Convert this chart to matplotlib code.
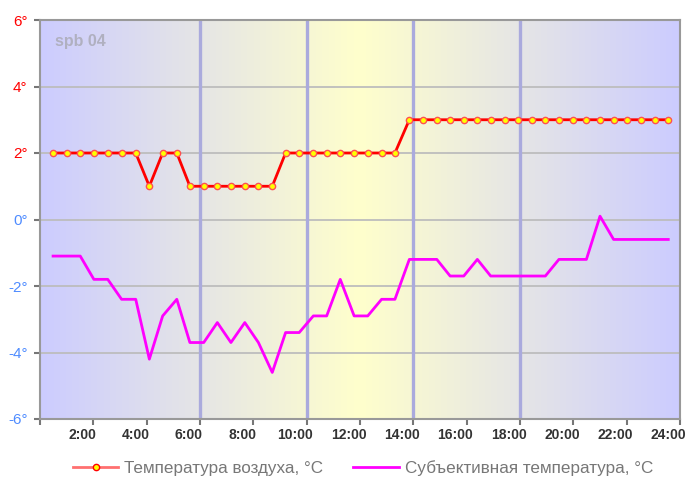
import numpy as np
import matplotlib
matplotlib.use("Agg")
import matplotlib.pyplot as plt
from matplotlib.colors import LinearSegmentedColormap
from matplotlib.lines import Line2D
from matplotlib.transforms import ScaledTranslation, blended_transform_factory

# время наблюдений (часы от 0:00)
hours = [0.49, 1.00, 1.51, 2.02, 2.54, 3.06, 3.59, 4.10, 4.60, 5.13,
         5.62, 6.14, 6.65, 7.16, 7.68, 8.19, 8.71, 9.21, 9.72, 10.25,
         10.75, 11.26, 11.78, 12.29, 12.81, 13.31, 13.85, 14.35, 14.88, 15.38,
         15.89, 16.40, 16.90, 17.43, 17.92, 18.44, 18.95, 19.46, 19.98, 20.49,
         21.00, 21.51, 22.02, 22.54, 23.05, 23.56]

air_temp = [2, 2, 2, 2, 2, 2, 2, 1, 2, 2,
            1, 1, 1, 1, 1, 1, 1, 2, 2, 2,
            2, 2, 2, 2, 2, 2, 3, 3, 3, 3,
            3, 3, 3, 3, 3, 3, 3, 3, 3, 3,
            3, 3, 3, 3, 3, 3]

feels_like = [-1.1, -1.1, -1.1, -1.8, -1.8, -2.4, -2.4, -4.2, -2.9, -2.4,
              -3.7, -3.7, -3.1, -3.7, -3.1, -3.7, -4.6, -3.4, -3.4, -2.9,
              -2.9, -1.8, -2.9, -2.9, -2.4, -2.4, -1.2, -1.2, -1.2, -1.7,
              -1.7, -1.2, -1.7, -1.7, -1.7, -1.7, -1.7, -1.2, -1.2, -1.2,
              0.1, -0.6, -0.6, -0.6, -0.6, -0.6]

x_ticks = [0, 2, 4, 6, 8, 10, 12, 14, 16, 18, 20, 22, 24]
x_labels = ["", "2:00", "4:00", "6:00", "8:00", "10:00", "12:00",
            "14:00", "16:00", "18:00", "20:00", "22:00", "24:00"]
y_ticks = [-6, -4, -2, 0, 2, 4, 6]
marker_hours = [6, 10, 14, 18]

plt.rcParams['font.family'] = ['Liberation Sans', 'DejaVu Sans']

fig = plt.figure(figsize=(6.87, 4.87), dpi=100)
ax = fig.add_axes([40 / 687, 1 - 419 / 487, 640 / 687, 399 / 487])

# фон: синий - жёлтый - синий
cmap = LinearSegmentedColormap.from_list("bg", ["#ccccff", "#ffffcc", "#ccccff"])
grad = np.linspace(0, 1, 256).reshape(1, -1)
ax.imshow(grad, cmap=cmap, extent=[0, 24, -6, 6], aspect="auto", zorder=0)

for yv in y_ticks:
    ax.axhline(yv, color="#bdbdbd", lw=1.3, zorder=1)
for h in marker_hours:
    ax.axvline(h, color="#aaaadd", lw=2.4, zorder=2)

ax.plot(hours, air_temp, color="red", lw=2, marker="o", ms=4.5,
        mfc="yellow", mec="#ff5050", mew=1, zorder=4)
ax.plot(hours, feels_like, color="#ff00ff", lw=2, zorder=3)

ax.set_xlim(0, 24)
ax.set_ylim(-6, 6)
ax.set_xticks(x_ticks)
ax.set_xticklabels([])
# подписи часов сдвинуты левее отметок, как в оригинале
trans = blended_transform_factory(ax.transData, ax.transAxes) + \
    ScaledTranslation(-0.113, -0.16, fig.dpi_scale_trans)
for t, lbl in zip(x_ticks, x_labels):
    ax.text(t, 0, lbl, transform=trans, ha="center", va="center",
            fontsize=10, fontweight="bold", color="#333333", clip_on=False)

ax.set_yticks(y_ticks)
ax.set_yticklabels([f"{v}°" for v in y_ticks], fontsize=11)
for lbl, v in zip(ax.get_yticklabels(), y_ticks):
    lbl.set_color("red" if v > 0 else "#4f8cff")

for s in ax.spines.values():
    s.set_color("#999999")
    s.set_linewidth(1.5)
ax.tick_params(axis="both", color="#777777", width=1.5, length=4)
ax.tick_params(axis="y", pad=5)

ax.text(0.55, 5.22, "spb 04", fontsize=11.5, fontweight="bold", color="#b0b0c0",
        zorder=5)

handles = [
    Line2D([], [], color="#ff7070", lw=2, marker="o", ms=4.5,
           mfc="yellow", mec="red"),
    Line2D([], [], color="#ff00ff", lw=2),
]
fig.legend(handles, ["Температура воздуха, °C", "Субъективная температура, °C"],
           loc="center", bbox_to_anchor=(363 / 687, 1 - 468 / 487), ncol=2,
           frameon=False, fontsize=12.3, labelcolor="#777777",
           handlelength=2.65, columnspacing=1.75, handletextpad=0.36)

fig.savefig("out.png", dpi=100)
